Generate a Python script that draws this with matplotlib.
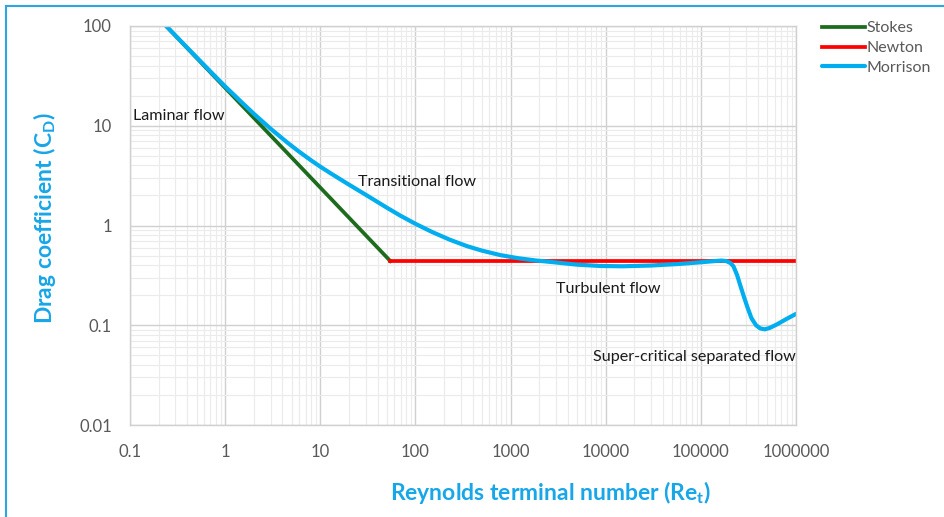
import numpy as np
import matplotlib.pyplot as plt
from matplotlib.lines import Line2D
from matplotlib.ticker import FixedLocator, LogLocator, NullFormatter

plt.rcParams['font.family'] = ['Lato', 'DejaVu Sans']
plt.rcParams['mathtext.fontset'] = 'custom'
plt.rcParams['mathtext.bf'] = 'Lato:bold'
plt.rcParams['mathtext.rm'] = 'Lato'

# data
stokes_re = [0.24, 1, 10, 54.5]
stokes_cd = [100, 24, 2.4, 0.44]

newton_re = [54.5, 1000000]
newton_cd = [0.44, 0.44]

morrison_re = [0.24, 0.4, 0.7, 1, 1.5, 2, 3, 4.5, 6, 8, 10, 12.7, 16, 20, 25, 32,
               40, 50, 70, 100, 150, 230, 350, 500, 780, 1200, 1800, 2600, 5000,
               8700, 15000, 30000, 60000, 100000, 140000, 165000, 185000, 205000,
               220000, 240000, 260000, 285000, 310000, 340000, 380000, 420000,
               470000, 530000, 630000, 800000, 1000000]
morrison_cd = [100, 60.5, 35, 24.8, 17.1, 13.2, 9.35, 6.79, 5.49, 4.50, 3.89, 3.36,
               2.93, 2.57, 2.26, 1.96, 1.72, 1.51, 1.25, 1.04, 0.86, 0.72, 0.62,
               0.56, 0.505, 0.47, 0.447, 0.432, 0.405, 0.393, 0.39, 0.397, 0.412,
               0.428, 0.44, 0.445, 0.44, 0.42, 0.39, 0.32, 0.25, 0.19, 0.15, 0.118,
               0.1, 0.093, 0.091, 0.094, 0.102, 0.116, 0.13]

x_ticks = [0.1, 1, 10, 100, 1000, 10000, 100000, 1000000]
x_labels = ['0.1', '1', '10', '100', '1000', '10000', '100000', '1000000']
y_ticks = [0.01, 0.1, 1, 10, 100]
y_labels = ['0.01', '0.1', '1', '10', '100']

blue = '#00AEEF'
txt_blue = '#17A6E8'

fig = plt.figure(figsize=(9.45, 5.17), dpi=100)
ax = fig.add_axes([130/945, 1-425/517, 666/945, 399/517])

ax.plot(stokes_re, stokes_cd, color='#1d6b1d', lw=2.7, label='Stokes')
ax.plot(newton_re, newton_cd, color='#ff0000', lw=2.7, label='Newton')
ax.plot(morrison_re, morrison_cd, color=blue, lw=3.0, label='Morrison',
        solid_joinstyle='round', solid_capstyle='round')

ax.set_xscale('log')
ax.set_yscale('log')
ax.set_xlim(0.1, 1e6)
ax.set_ylim(0.01, 100)
ax.xaxis.set_major_locator(FixedLocator(x_ticks))
ax.set_xticklabels(x_labels)
ax.yaxis.set_major_locator(FixedLocator(y_ticks))
ax.set_yticklabels(y_labels)
for a in (ax.xaxis, ax.yaxis):
    a.set_minor_locator(LogLocator(base=10, subs=np.arange(2, 10)))
    a.set_minor_formatter(NullFormatter())

ax.grid(which='major', color='#d0d0d0', lw=1.0)
ax.grid(which='minor', color='#ebebeb', lw=0.8)
ax.set_axisbelow(True)
for s in ax.spines.values():
    s.set_color('#d0d0d0')
    s.set_linewidth(1.0)
ax.tick_params(which='both', length=0)
ax.tick_params(axis='x', pad=14, labelsize=12, labelcolor='#595959')
ax.tick_params(axis='y', pad=13, labelsize=12, labelcolor='#595959')

# flow regime labels
ax.text(0.107, 12.6, 'Laminar flow', va='center', fontsize=11.6, color='#1a1a1a')
ax.text(25, 2.75, 'Transitional flow', va='center', fontsize=11.6, color='#1a1a1a')
ax.text(3000, 0.23, 'Turbulent flow', va='center', fontsize=11.6, color='#1a1a1a')
ax.text(7300, 0.048, 'Super-critical separated flow', va='center', fontsize=11.6,
        color='#1a1a1a')

fig.text(551/945, 1-492/517, r'Reynolds terminal number (Re$_\mathbf{t}$)',
         ha='center', va='center', fontsize=16.5, fontweight='bold', color=txt_blue)
fig.text(45/945, 1-218/517, r'Drag coefficient (C$_\mathbf{D}$)', rotation=90,
         ha='center', va='center', fontsize=16.5, fontweight='bold', color=txt_blue)

fig.legend(loc='upper left', bbox_to_anchor=(822/945, 1-21/517), frameon=False,
           fontsize=11.5, handlelength=2.7, handletextpad=0.1, labelspacing=0.36,
           borderpad=0, borderaxespad=0, labelcolor='#595959')

# blue frame on left and top
fig.add_artist(Line2D([6/945, 6/945], [0, 1-6/517], transform=fig.transFigure,
                      color='#2ea6e6', lw=1.5))
fig.add_artist(Line2D([6/945, 1], [1-6/517, 1-6/517], transform=fig.transFigure,
                      color='#2ea6e6', lw=1.5))

fig.savefig('out.png', dpi=100)
